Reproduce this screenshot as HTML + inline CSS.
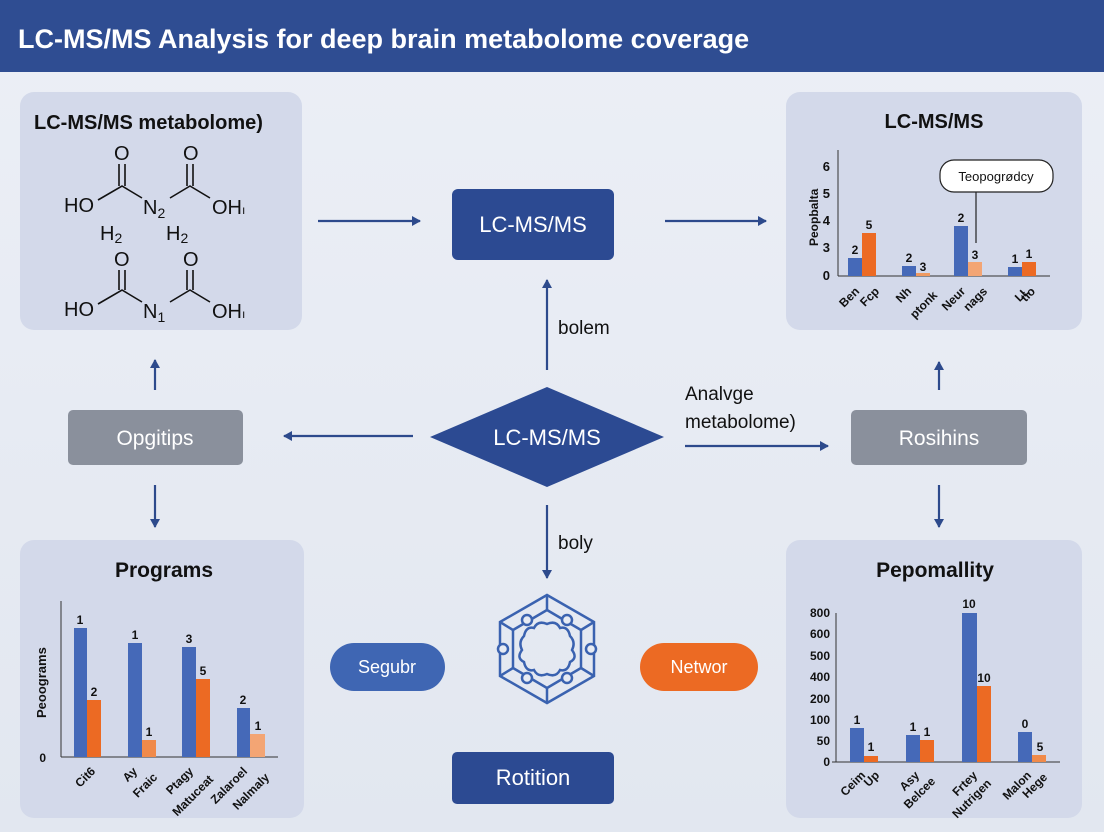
<!DOCTYPE html>
<html><head><meta charset="utf-8"><style>
html,body{margin:0;padding:0;width:1104px;height:832px;overflow:hidden;background:#e7ebf3}
svg{display:block}
text{font-family:"Liberation Sans",sans-serif}
</style></head><body>
<svg width="1104" height="832" viewBox="0 0 1104 832" xmlns="http://www.w3.org/2000/svg">
<defs>
<marker id="ah" markerWidth="10" markerHeight="10" refX="8" refY="5" orient="auto" markerUnits="userSpaceOnUse">
<path d="M0,0 L9,5 L0,10 Z" fill="#2d4a8c"/></marker>
<linearGradient id="bg" x1="0" y1="0" x2="0" y2="1"><stop offset="0" stop-color="#eceff6"/><stop offset="1" stop-color="#e2e7f0"/></linearGradient>
</defs>
<rect width="1104" height="832" fill="url(#bg)"/>
<rect width="1104" height="72" fill="#2f4d92"/>
<text x="18" y="48" font-size="27" font-weight="bold" fill="#fff">LC-MS/MS Analysis for deep brain metabolome coverage</text>

<rect x="20" y="92" width="282" height="238" rx="14" fill="#d3d9ea"/>
<rect x="786" y="92" width="296" height="238" rx="14" fill="#d3d9ea"/>
<rect x="20" y="540" width="284" height="278" rx="14" fill="#d3d9ea"/>
<rect x="786" y="540" width="296" height="278" rx="14" fill="#d3d9ea"/>

<text x="34" y="129" font-size="20" font-weight="bold" fill="#111">LC-MS/MS metabolome)</text>
<g font-size="20" fill="#111">
<text x="114" y="160">O</text><text x="183" y="160">O</text>
<text x="64" y="212">HO</text><text x="143" y="214">N<tspan font-size="14" dy="4">2</tspan></text><text x="212" y="214">OH<tspan font-size="12">ı</tspan></text>
<text x="100" y="240">H<tspan font-size="14" dy="3">2</tspan></text><text x="166" y="240">H<tspan font-size="14" dy="3">2</tspan></text>
<text x="114" y="266">O</text><text x="183" y="266">O</text>
<text x="64" y="316">HO</text><text x="143" y="318">N<tspan font-size="14" dy="4">1</tspan></text><text x="212" y="318">OH<tspan font-size="12">ı</tspan></text>
</g>
<g stroke="#111" stroke-width="1.6" fill="none">
<path d="M98,200 L122,186 L142,198"/><path d="M119,164 L119,186 M125,164 L125,186"/>
<path d="M170,198 L190,186 L210,198"/><path d="M187,164 L187,186 M193,164 L193,186"/>
<path d="M98,304 L122,290 L142,302"/><path d="M119,270 L119,290 M125,270 L125,290"/>
<path d="M170,302 L190,290 L210,302"/><path d="M187,270 L187,290 M193,270 L193,290"/>
</g>

<rect x="452" y="189" width="162" height="71" rx="6" fill="#2c4a92"/>
<text x="533" y="232" font-size="22" fill="#fff" text-anchor="middle">LC-MS/MS</text>
<polygon points="430,437 547,387 664,437 547,487" fill="#2c4a92"/>
<text x="547" y="445" font-size="22" fill="#fff" text-anchor="middle">LC-MS/MS</text>
<rect x="452" y="752" width="162" height="52" rx="5" fill="#2c4a92"/>
<text x="533" y="785" font-size="22" fill="#fff" text-anchor="middle">Rotition</text>
<rect x="68" y="410" width="175" height="55" rx="5" fill="#8a909c"/>
<text x="155" y="445" font-size="21" fill="#fff" text-anchor="middle">Opgitips</text>
<rect x="851" y="410" width="176" height="55" rx="5" fill="#8a909c"/>
<text x="939" y="445" font-size="21" fill="#fff" text-anchor="middle">Rosihins</text>
<rect x="330" y="643" width="115" height="48" rx="24" fill="#3f66b3"/>
<text x="387" y="673" font-size="18" fill="#fff" text-anchor="middle">Segubr</text>
<rect x="640" y="643" width="118" height="48" rx="24" fill="#ec6a23"/>
<text x="699" y="673" font-size="18" fill="#fff" text-anchor="middle">Networ</text>

<g stroke="#3a62b0" stroke-width="2.5" fill="none">
<polygon points="547,595 594,622 594,676 547,703 500,676 500,622"/>
<polygon points="547,610 581,630 581,668 547,688 513,668 513,630"/>
<path d="M547,595 L547,610 M594,622 L581,630 M594,676 L581,668 M547,703 L547,688 M500,676 L513,668 M500,622 L513,630"/>
<path d="M547,624 Q556,620 560,628 Q568,626 570,636 Q576,642 572,650 Q578,658 570,662 Q568,672 560,670 Q556,678 547,674 Q538,678 534,670 Q526,672 524,662 Q516,658 522,650 Q518,642 524,636 Q526,626 534,628 Q538,620 547,624 Z"/>
</g>
<g fill="#e7ebf3" stroke="#3a62b0" stroke-width="2.5">
<circle cx="527" cy="620" r="5"/><circle cx="567" cy="620" r="5"/><circle cx="503" cy="649" r="5"/><circle cx="591" cy="649" r="5"/><circle cx="527" cy="678" r="5"/><circle cx="567" cy="678" r="5"/>
</g>

<g stroke="#2d4a8c" stroke-width="2.2" marker-end="url(#ah)">
<line x1="318" y1="221" x2="420" y2="221"/>
<line x1="665" y1="221" x2="766" y2="221"/>
<line x1="547" y1="370" x2="547" y2="280"/>
<line x1="413" y1="436" x2="284" y2="436"/>
<line x1="685" y1="446" x2="828" y2="446"/>
<line x1="155" y1="390" x2="155" y2="360"/>
<line x1="939" y1="390" x2="939" y2="362"/>
<line x1="155" y1="485" x2="155" y2="527"/>
<line x1="939" y1="485" x2="939" y2="527"/>
<line x1="547" y1="505" x2="547" y2="578"/>
</g>
<text x="558" y="334" font-size="19" fill="#111">bolem</text>
<text x="558" y="549" font-size="19" fill="#111">boly</text>
<text x="685" y="400" font-size="19" fill="#111">Analvge</text>
<text x="685" y="428" font-size="19" fill="#111">metabolome)</text>

<text x="934" y="128" font-size="20" font-weight="bold" fill="#111" text-anchor="middle">LC-MS/MS</text>
<g stroke="#333" stroke-width="1"><line x1="838" y1="150" x2="838" y2="276"/><line x1="838" y1="276" x2="1050" y2="276"/></g>
<g font-size="13" fill="#111" text-anchor="end" font-weight="bold">
<text x="830" y="171">6</text><text x="830" y="198">5</text><text x="830" y="225">4</text><text x="830" y="252">3</text><text x="830" y="280">0</text></g>
<text transform="translate(818,246) rotate(-90)" font-size="12" font-weight="bold" fill="#111">Peopbalta</text>
<rect x="848" y="258" width="14" height="18" fill="#4569b8"/><rect x="862" y="233" width="14" height="43" fill="#ec6a23"/>
<rect x="902" y="266" width="14" height="10" fill="#4569b8"/><rect x="916" y="273" width="14" height="3" fill="#f09a60"/>
<rect x="954" y="226" width="14" height="50" fill="#4569b8"/><rect x="968" y="262" width="14" height="14" fill="#f3a574"/>
<rect x="1008" y="267" width="14" height="9" fill="#4569b8"/><rect x="1022" y="262" width="14" height="14" fill="#ec6a23"/>
<g font-size="12" font-weight="bold" fill="#111" text-anchor="middle">
<text x="855" y="254">2</text><text x="869" y="229">5</text><text x="909" y="262">2</text><text x="923" y="271">3</text>
<text x="961" y="222">2</text><text x="975" y="259">3</text><text x="1015" y="263">1</text><text x="1029" y="258">1</text></g>
<line x1="976" y1="190" x2="976" y2="243" stroke="#222" stroke-width="1.2"/>
<rect x="940" y="160" width="113" height="32" rx="14" fill="#fff" stroke="#222" stroke-width="1.2"/>
<text x="996" y="181" font-size="13" fill="#111" text-anchor="middle">Teopogrødcy</text>
<g font-size="12" font-weight="bold" fill="#111" text-anchor="end">
<text transform="translate(860,292) rotate(-45)">Ben</text><text transform="translate(880,292) rotate(-45)">Fcp</text>
<text transform="translate(912,292) rotate(-45)">Nh</text><text transform="translate(938,296) rotate(-45)">ptonk</text>
<text transform="translate(966,292) rotate(-45)">Neur</text><text transform="translate(988,292) rotate(-45)">nags</text>
<text transform="translate(1030,292) rotate(-45)">LL</text><text transform="translate(1036,292) rotate(-45)">tio</text></g>

<text x="164" y="577" font-size="21" font-weight="bold" fill="#111" text-anchor="middle">Programs</text>
<g stroke="#333" stroke-width="1"><line x1="61" y1="601" x2="61" y2="757"/><line x1="61" y1="757" x2="278" y2="757"/></g>
<text x="46" y="762" font-size="12" font-weight="bold" fill="#111" text-anchor="end">0</text>
<text transform="translate(46,718) rotate(-90)" font-size="13" font-weight="bold" fill="#111">Peoograms</text>
<rect x="74" y="628" width="13" height="129" fill="#4569b8"/><rect x="87" y="700" width="14" height="57" fill="#ec6a23"/>
<rect x="128" y="643" width="14" height="114" fill="#4569b8"/><rect x="142" y="740" width="14" height="17" fill="#f08a4a"/>
<rect x="182" y="647" width="14" height="110" fill="#4569b8"/><rect x="196" y="679" width="14" height="78" fill="#ec6a23"/>
<rect x="237" y="708" width="13" height="49" fill="#4569b8"/><rect x="250" y="734" width="15" height="23" fill="#f3a574"/>
<g font-size="12" font-weight="bold" fill="#111" text-anchor="middle">
<text x="80" y="624">1</text><text x="94" y="696">2</text><text x="135" y="639">1</text><text x="149" y="736">1</text>
<text x="189" y="643">3</text><text x="203" y="675">5</text><text x="243" y="704">2</text><text x="258" y="730">1</text></g>
<g font-size="12" font-weight="bold" fill="#111" text-anchor="end">
<text transform="translate(96,772) rotate(-45)">Cit6</text>
<text transform="translate(138,772) rotate(-45)">Ay</text><text transform="translate(158,778) rotate(-45)">Fraic</text>
<text transform="translate(194,772) rotate(-45)">Ptagy</text><text transform="translate(214,780) rotate(-45)">Matuceat</text>
<text transform="translate(248,772) rotate(-45)">Zalaroel</text><text transform="translate(270,778) rotate(-45)">Nalmaly</text></g>

<text x="935" y="577" font-size="21" font-weight="bold" fill="#111" text-anchor="middle">Pepomallity</text>
<g stroke="#333" stroke-width="1"><line x1="836" y1="613" x2="836" y2="762"/><line x1="832" y1="762" x2="1060" y2="762"/></g>
<g font-size="12" font-weight="bold" fill="#111" text-anchor="end">
<text x="830" y="617">800</text><text x="830" y="638">600</text><text x="830" y="660">500</text><text x="830" y="681">400</text>
<text x="830" y="703">200</text><text x="830" y="724">100</text><text x="830" y="745">50</text><text x="830" y="766">0</text></g>
<rect x="850" y="728" width="14" height="34" fill="#4569b8"/><rect x="864" y="756" width="14" height="6" fill="#ec6a23"/>
<rect x="906" y="735" width="14" height="27" fill="#4569b8"/><rect x="920" y="740" width="14" height="22" fill="#ec6a23"/>
<rect x="962" y="613" width="15" height="149" fill="#4569b8"/><rect x="977" y="686" width="14" height="76" fill="#ec6a23"/>
<rect x="1018" y="732" width="14" height="30" fill="#4569b8"/><rect x="1032" y="755" width="14" height="7" fill="#f08a4a"/>
<g font-size="12" font-weight="bold" fill="#111" text-anchor="middle">
<text x="857" y="724">1</text><text x="871" y="751">1</text><text x="913" y="731">1</text><text x="927" y="736">1</text>
<text x="969" y="608">10</text><text x="984" y="682">10</text><text x="1025" y="728">0</text><text x="1040" y="751">5</text></g>
<g font-size="12" font-weight="bold" fill="#111" text-anchor="end">
<text transform="translate(866,776) rotate(-45)">Ceim</text><text transform="translate(880,776) rotate(-45)">Up</text>
<text transform="translate(920,776) rotate(-45)">Asy</text><text transform="translate(936,782) rotate(-45)">Belcee</text>
<text transform="translate(978,776) rotate(-45)">Frtey</text><text transform="translate(992,784) rotate(-45)">Nutrigen</text>
<text transform="translate(1032,776) rotate(-45)">Malon</text><text transform="translate(1048,778) rotate(-45)">Hege</text></g>
</svg>
</body></html>
